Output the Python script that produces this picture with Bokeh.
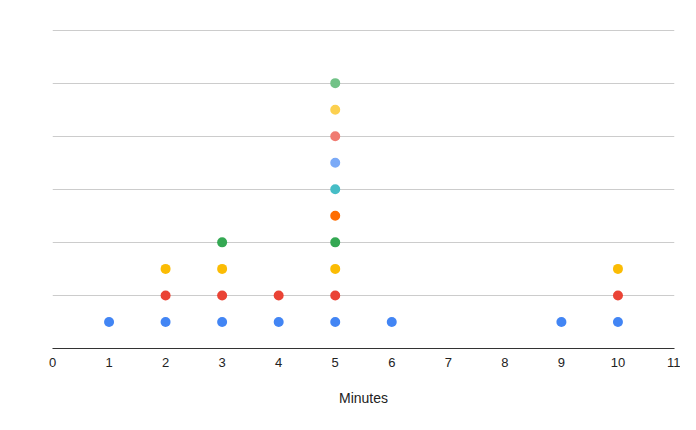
from bokeh.plotting import figure
from bokeh.models import FixedTicker, Range1d, ColumnDataSource
from bokeh.embed import file_html
from bokeh.resources import INLINE

minutes = [1, 2, 3, 4, 5, 6, 9, 10]
counts = [1, 3, 4, 2, 10, 1, 1, 3]
level_colors = ["#4285F4", "#EA4335", "#FBBC04", "#34A853", "#FF6D01",
                "#46BDC6", "#7BAAF7", "#F07B72", "#FCD04F", "#71C287"]
x_ticks = list(range(0, 12))
grid_ticks = [0, 2, 4, 6, 8, 10, 12]

xs, ys, cs = [], [], []
for m, c in zip(minutes, counts):
    for lvl in range(1, c + 1):
        xs.append(m)
        ys.append(lvl)
        cs.append(level_colors[lvl - 1])
src = ColumnDataSource(dict(x=xs, y=ys, c=cs))

p = figure(width=680, height=414, output_backend="svg", toolbar_location=None,
           x_range=Range1d(0, 11), y_range=Range1d(0, 12.06),
           min_border_left=52, min_border_right=6, min_border_top=28, min_border_bottom=66)
p.outline_line_color = None
p.scatter("x", "y", source=src, size=10, fill_color="c", line_color=None)

p.xaxis.ticker = FixedTicker(ticks=x_ticks)
p.xaxis.major_tick_line_color = None
p.xaxis.minor_tick_line_color = None
p.xaxis.axis_line_color = "#333333"
p.xaxis.axis_line_width = 1.2
p.xaxis.major_label_text_font = "Liberation Sans"
p.xaxis.major_label_text_font_size = "13px"
p.xaxis.major_label_text_color = "#222222"
p.xaxis.major_label_standoff = 3
p.xaxis.axis_label = "Minutes"
p.xaxis.axis_label_text_font = "Liberation Sans"
p.xaxis.axis_label_text_font_size = "14px"
p.xaxis.axis_label_text_font_style = "normal"
p.xaxis.axis_label_text_color = "#222222"
p.xaxis.axis_label_standoff = 20

p.yaxis.visible = False
p.xgrid.visible = False
p.ygrid.ticker = FixedTicker(ticks=grid_ticks)
p.ygrid.grid_line_color = "#cccccc"

open("out.html", "w").write(file_html(p, INLINE))
